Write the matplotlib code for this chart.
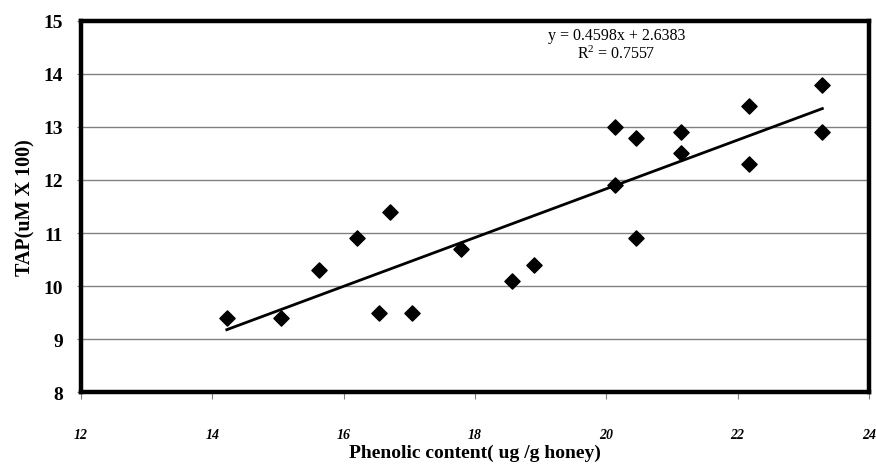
import matplotlib.pyplot as plt
import numpy as np

plt.rcParams['font.family'] = ['Liberation Serif', 'DejaVu Serif']

phenolic = [14.22, 15.05, 15.63, 16.2, 16.54, 16.7, 17.04, 17.78, 18.56, 18.9,
            20.13, 20.13, 20.45, 20.45, 21.13, 21.13, 22.18, 22.18, 23.29, 23.29]
tap = [9.4, 9.4, 10.3, 10.9, 9.5, 11.4, 9.5, 10.7, 10.1, 10.4,
       13.0, 11.9, 12.8, 10.9, 12.9, 12.5, 13.4, 12.3, 13.8, 12.9]
slope, intercept = 0.4598, 2.6383
r2 = 0.7557

fig = plt.figure(figsize=(8.76, 4.77), dpi=100)
ax = fig.add_axes([0.0925, 0.176, 0.8995, 0.778])

ax.scatter(phenolic, tap, marker='D', s=60, color='black', zorder=3)
xl = np.array([min(phenolic), max(phenolic)])
ax.plot(xl, slope * xl + intercept, color='black', lw=2, zorder=3)

ax.set_xlim(12, 24)
ax.set_ylim(8, 15)
ax.set_xticks(range(12, 25, 2))
ax.set_yticks(range(8, 16))
ax.yaxis.grid(True, color='#808080', lw=1)
ax.set_axisbelow(True)

for s in ax.spines.values():
    s.set_linewidth(3.2)
    s.set_color('black')

ax.tick_params(axis='x', length=5, color='#808080', pad=21)
ax.tick_params(axis='y', length=3, color='#808080', pad=10)
for t in ax.get_xticklabels():
    t.set_fontsize(10)
    t.set_fontweight('bold')
    t.set_fontstyle('italic')
for t in ax.get_yticklabels():
    t.set_fontsize(14)
    t.set_fontweight('bold')

ax.text(20.15, 14.55, 'y = %.4fx + %.4f\n$\\mathregular{R^2}$ = %.4f' % (slope, intercept, r2),
        ha='center', va='center', fontsize=11.5, linespacing=1.15)

ax.set_xlabel('Phenolic content( ug /g honey)', fontsize=14, fontweight='bold', labelpad=2)
ax.set_ylabel('TAP(uM X 100)', fontsize=14.5, fontweight='bold', labelpad=6)

fig.savefig('out.png', dpi=100)
